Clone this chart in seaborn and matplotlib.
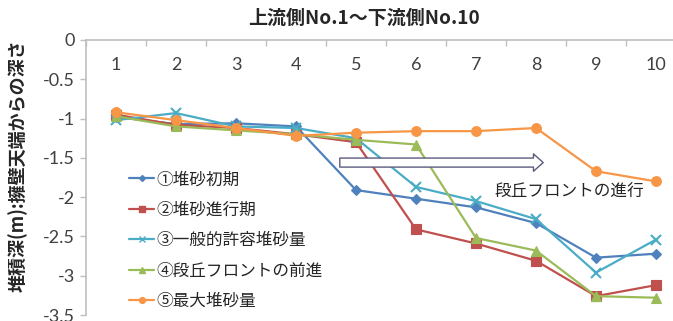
import matplotlib
matplotlib.use("Agg")
import matplotlib.pyplot as plt
from matplotlib.lines import Line2D
import seaborn as sns
import pandas as pd

# Measurement points, upstream No.1 to downstream No.10
points = list(range(1, 11))
y_ticks = [0, -0.5, -1, -1.5, -2, -2.5, -3, -3.5]

series_names = ["①堆砂初期", "②堆砂進行期", "③一般的許容堆砂量", "④段丘フロントの前進", "⑤最大堆砂量"]
depth_initial = [-0.98, -1.07, -1.06, -1.10, -1.91, -2.02, -2.13, -2.33, -2.77, -2.72]
depth_progress = [-0.95, -1.08, -1.12, -1.20, -1.30, -2.41, -2.59, -2.81, -3.26, -3.12]
depth_allowable = [-1.02, -0.93, -1.10, -1.12, -1.25, -1.87, -2.05, -2.28, -2.96, -2.54]
depth_front = [-0.97, -1.10, -1.15, -1.20, -1.27, -1.33, -2.52, -2.68, -3.26, -3.28]
depth_max = [-0.92, -1.02, -1.12, -1.22, -1.18, -1.16, -1.16, -1.12, -1.67, -1.80]

colors = ["#4F81BD", "#C0504D", "#4BACC6", "#9BBB59", "#F79646"]
markers = ["D", "s", "x", "^", "o"]
msizes = [5, 6.5, 7, 7, 7]

sns.set_style("white")
jp = ["Noto Sans CJK JP", "DejaVu Sans"]
plt.rcParams["font.family"] = jp

df = pd.concat([
    pd.DataFrame({"No": points, "depth": vals, "series": name})
    for name, vals in zip(series_names,
                          [depth_initial, depth_progress, depth_allowable, depth_front, depth_max])
])

fig = plt.figure(figsize=(6.73, 3.21), dpi=100)
ax = fig.add_axes([86 / 673, 1 - 315 / 321, 600 / 673, 275 / 321])

for name, c, m, ms in zip(series_names, colors, markers, msizes):
    sub = df[df["series"] == name]
    sns.lineplot(data=sub, x="No", y="depth", ax=ax, color=c, marker=m,
                 markersize=ms, markeredgecolor=c, markeredgewidth=1.5 if m == "x" else 0.8,
                 linewidth=1.6, legend=False)

ax.set_xlim(0.5, 10.5)
ax.set_ylim(-3.5, 0)
ax.set_xlabel("")
ax.set_ylabel("")

# category axis drawn along the top edge, labels sitting just below it
ax.set_xticks(points)
ax.set_xticklabels([str(p) for p in points], fontfamily="Lato", fontsize=13, color="#404040")
ax.set_xticks([p + 0.5 for p in range(0, 11)], minor=True)
ax.tick_params(axis="x", which="major", top=True, bottom=False, labeltop=True,
               labelbottom=False, length=0, pad=-24)
ax.tick_params(axis="x", which="minor", top=True, bottom=False, direction="in",
               length=4, color="#bfbfbf", width=1)

ax.set_yticks(y_ticks)
ax.set_yticklabels(["0" if v == 0 else f"{v:g}" for v in y_ticks],
                   fontfamily="Lato", fontsize=13, color="#404040")
ax.tick_params(axis="y", left=True, direction="out", length=4, color="#bfbfbf", width=1, pad=4)

for side in ["bottom", "right"]:
    ax.spines[side].set_visible(False)
for side in ["top", "left"]:
    ax.spines[side].set_color("#bfbfbf")
    ax.spines[side].set_linewidth(1.2)

# hollow arrow showing the terrace front moving downstream
ax.annotate("", xy=(8.12, -1.56), xytext=(4.73, -1.56),
            arrowprops=dict(arrowstyle="simple,head_length=0.7,head_width=1.25,tail_width=0.65",
                            fc="white", ec="#5b5b7e", lw=1.0, shrinkA=0, shrinkB=0))
ax.text(8.55, -1.92, "段丘フロントの進行", fontsize=12, ha="center", va="center",
        color="#262626", fontfamily=jp)

handles = [Line2D([0], [0], color=c, marker=m, markersize=ms * 0.6, markeredgecolor=c,
                  linewidth=1.6) for c, m, ms in zip(colors, markers, msizes)]
leg = ax.legend(handles, series_names, loc="upper left", bbox_to_anchor=(121 / 673, 1 - 163 / 321),
                bbox_transform=fig.transFigure, frameon=False, prop={"family": jp, "size": 12},
                handlelength=1.5, handletextpad=0.15, labelspacing=0.8, borderpad=0)
for t in leg.get_texts():
    t.set_color("#262626")

fig.text(364 / 673, 1 - 18 / 321, "上流側No.1～下流側No.10", fontsize=13.7, fontweight="bold",
         ha="center", va="center", color="#262626", fontfamily=jp)
fig.text(18 / 673, 1 - 166 / 321, "堆積深(m):擁壁天端からの深さ", fontsize=13, fontweight="bold",
         rotation=90, ha="center", va="center", color="#262626", fontfamily=jp)

fig.savefig("out.png", dpi=100)
